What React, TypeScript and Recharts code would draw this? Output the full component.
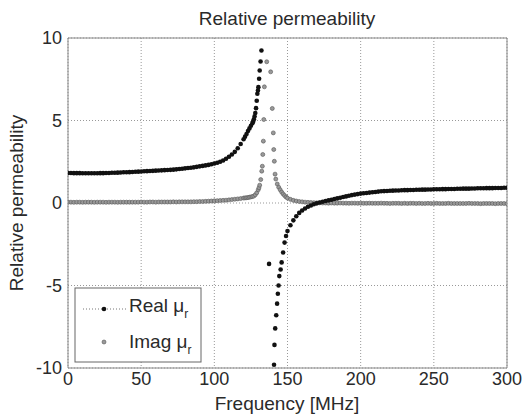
import { ScatterChart, Scatter, XAxis, YAxis, CartesianGrid, ReferenceLine } from 'recharts'

// frequency grid [MHz] below the resonance
const freqLow = [
  0, 2, 4, 6, 8, 10, 12, 14, 16, 18, 20, 22, 24, 26, 28, 30, 32, 34, 36, 38, 40,
  42, 44, 46, 48, 50, 52, 54, 56, 58, 60, 62, 64, 66, 68, 70, 72, 74, 76, 78, 80,
  82, 84, 86, 88, 90, 92, 94, 96, 98, 100, 102, 104, 106, 108, 110, 112, 114, 116, 118, 120,
]
const realLow = [
  1.82, 1.82, 1.81, 1.81, 1.81, 1.8, 1.8, 1.8, 1.8, 1.8, 1.8,
  1.81, 1.81, 1.82, 1.82, 1.83, 1.83, 1.84, 1.85, 1.86, 1.86,
  1.87, 1.88, 1.89, 1.9, 1.91, 1.92, 1.93, 1.94, 1.95, 1.96,
  1.97, 1.98, 1.99, 2.0, 2.01, 2.02, 2.04, 2.06, 2.08, 2.1,
  2.12, 2.14, 2.16, 2.19, 2.22, 2.25, 2.28, 2.31, 2.35, 2.39,
  2.44, 2.5, 2.58, 2.68, 2.8, 2.94, 3.1, 3.32, 3.58, 3.86,
]
const imagLow = [
  0.05, 0.05, 0.04, 0.05, 0.05, 0.04, 0.05, 0.05, 0.05, 0.04, 0.05,
  0.05, 0.05, 0.04, 0.05, 0.05, 0.05, 0.04, 0.05, 0.05, 0.05,
  0.05, 0.05, 0.05, 0.05, 0.06, 0.05, 0.05, 0.06, 0.06, 0.05,
  0.06, 0.06, 0.06, 0.06, 0.06, 0.07, 0.06, 0.07, 0.07, 0.07,
  0.07, 0.07, 0.08, 0.08, 0.09, 0.09, 0.1, 0.11, 0.12, 0.13,
  0.14, 0.15, 0.16, 0.17, 0.19, 0.21, 0.23, 0.25, 0.27, 0.3,
]

// around the resonance the samples are read one by one
const realMidFreq = [
  121, 122, 123, 124, 125, 126, 126.5, 127, 127.5, 128, 128.5, 129, 129.4, 129.8, 130.1, 130.6,
  131, 131.6, 132.2, 137.4, 140.8, 141.1, 141.6, 142.3, 142.9, 143.4, 143.9, 144.4, 145.3, 146,
  147, 148, 149,
]
const realMid = [
  4.02, 4.18, 4.36, 4.52, 4.68, 4.84, 4.94, 5.08, 5.25, 5.45, 5.75, 6.2, 6.62, 6.82, 7.02, 7.53,
  8.03, 8.58, 9.24, -3.69, -9.8, -8.6, -7.6, -6.8, -6.1, -5.5, -5.0, -4.43, -4.03, -3.6,
  -3.0, -2.4, -2.0,
]
const imagMidFreq = [
  121, 122, 123, 124, 125, 126, 127, 128, 129, 130, 130.5, 131, 131.7, 132.4, 132.8, 133.1, 133.5,
  133.8, 134.2, 135.8, 138.5, 139.6, 140.3, 140.6, 141, 141.5, 142, 143, 144, 145, 146, 147, 148, 149,
]
const imagMid = [
  0.31, 0.32, 0.33, 0.35, 0.37, 0.39, 0.42, 0.5, 0.62, 0.8, 0.92, 1.08, 1.42, 1.93, 2.23, 2.94, 3.75,
  5.06, 7.04, 8.56, 7.95, 5.73, 4.25, 3.24, 2.53, 1.75, 1.45, 1.15, 0.95, 0.8, 0.66, 0.55, 0.45, 0.36,
]

// above the resonance
const freqHigh = [
  150, 152, 154, 156, 158, 160, 162, 164, 166, 168, 170, 172, 174, 176, 178, 180, 182, 184, 186, 188,
  190, 192, 194, 196, 198, 200, 202, 204, 206, 208, 210, 212, 214, 216, 218, 220, 222, 224, 226, 228,
  230, 232, 234, 236, 238, 240, 242, 244, 246, 248, 250, 252, 254, 256, 258, 260, 262, 264, 266, 268,
  270, 272, 274, 276, 278, 280, 282, 284, 286, 288, 290, 292, 294, 296, 298, 300,
]
const realHigh = [
  -1.7, -1.35, -1.05, -0.8, -0.6, -0.45, -0.33, -0.23, -0.15, -0.08,
  -0.02, 0.03, 0.08, 0.12, 0.16, 0.2, 0.24, 0.28, 0.32, 0.36,
  0.4, 0.44, 0.48, 0.51, 0.54, 0.57, 0.59, 0.61, 0.63, 0.65,
  0.67, 0.69, 0.71, 0.72, 0.73, 0.74, 0.75, 0.76, 0.76, 0.77,
  0.78, 0.78, 0.79, 0.79, 0.8, 0.8, 0.81, 0.81, 0.82, 0.82,
  0.83, 0.83, 0.83, 0.84, 0.84, 0.85, 0.85, 0.85, 0.86, 0.86,
  0.87, 0.87, 0.87, 0.88, 0.88, 0.89, 0.89, 0.89, 0.9, 0.9,
  0.9, 0.91, 0.91, 0.91, 0.92, 0.92,
]
const imagHigh = [
  0.3, 0.22, 0.16, 0.12, 0.09, 0.07, 0.05, 0.04, 0.03, 0.02,
  0.01, 0.01, 0.0, 0.0, -0.01, 0.0, -0.01, -0.01, 0.0, -0.01,
  -0.01, -0.02, -0.01, -0.01, -0.02, -0.01, -0.02, -0.02, -0.01, -0.02,
  -0.02, -0.02, -0.01, -0.02, -0.02, -0.03, -0.02, -0.02, -0.02, -0.03,
  -0.02, -0.03, -0.02, -0.02, -0.03, -0.02, -0.03, -0.03, -0.02, -0.03,
  -0.03, -0.02, -0.03, -0.03, -0.03, -0.02, -0.03, -0.03, -0.03, -0.03,
  -0.03, -0.03, -0.02, -0.03, -0.03, -0.03, -0.04, -0.03, -0.03, -0.03,
  -0.03, -0.04, -0.03, -0.03, -0.03, -0.04,
]

const xTicks = [0, 50, 100, 150, 200, 250, 300]
const yTicks = [-10, -5, 0, 5, 10]

const toPoints = (f: number[], v: number[]) => f.map((x, i) => ({ f: x, v: v[i] }))

const realData = toPoints([...freqLow, ...realMidFreq, ...freqHigh], [...realLow, ...realMid, ...realHigh])
const imagData = toPoints([...freqLow, ...imagMidFreq, ...freqHigh], [...imagLow, ...imagMid, ...imagHigh])

const FONT = '"Liberation Sans", Arial, Helvetica, sans-serif'
const INK = '#2a2a2a'

const realDot = (p: any) => <circle cx={p.cx} cy={p.cy} r={2.3} fill="#111" />
const imagDot = (p: any) => <circle cx={p.cx} cy={p.cy} r={2} fill="#999" stroke="#555" strokeWidth={0.6} />

export default function App() {
  return (
    <div style={{ position: 'absolute', left: 0, top: 0, width: 524, height: 416, background: '#fff', fontFamily: FONT }}>
      <ScatterChart width={524} height={416} margin={{ top: 38, right: 17, left: 8, bottom: 18 }}>
        <CartesianGrid stroke="#999" strokeDasharray="1 2" />
        <XAxis
          type="number"
          dataKey="f"
          domain={[0, 300]}
          ticks={xTicks}
          allowDataOverflow
          height={30}
          axisLine={false}
          tickLine={false}
          tickSize={0}
          tickMargin={4}
          tick={{ fontSize: 18, fill: INK, fontFamily: FONT }}
        />
        <YAxis
          type="number"
          dataKey="v"
          domain={[-10, 10]}
          ticks={yTicks}
          allowDataOverflow
          width={60}
          axisLine={false}
          tickLine={false}
          tickSize={0}
          tickMargin={6}
          tick={{ fontSize: 18, fill: INK, fontFamily: FONT }}
        />
        <ReferenceLine x={0} stroke="#888" />
        <ReferenceLine x={300} stroke="#888" />
        <ReferenceLine y={-10} stroke="#888" />
        <ReferenceLine y={10} stroke="#888" />
        <Scatter name="Imag" data={imagData} shape={imagDot} isAnimationActive={false} />
        <Scatter name="Real" data={realData} shape={realDot} isAnimationActive={false} />
      </ScatterChart>

      <svg width={524} height={416} style={{ position: 'absolute', left: 0, top: 0, pointerEvents: 'none' }}>
        <g fontFamily={FONT} fill={INK}>
          <text x={287} y={25} fontSize={19} textAnchor="middle">Relative permeability</text>
          <text x={287} y={410} fontSize={19} textAnchor="middle">Frequency [MHz]</text>
          <text x={23} y={203} fontSize={19} textAnchor="middle" transform="rotate(-90 23 203)">
            Relative permeability
          </text>
        </g>

        {/* legend */}
        <rect x={75} y={288} width={126} height={74} fill="#fff" stroke="#666" strokeWidth={1} />
        <line x1={83} y1={309} x2={126} y2={309} stroke="#777" strokeDasharray="1 2" />
        <circle cx={104} cy={309} r={2.3} fill="#111" />
        <circle cx={104} cy={342} r={2} fill="#999" stroke="#555" strokeWidth={0.6} />
        <g fontFamily={FONT} fill={INK}>
          <text x={129} y={312} fontSize={19}>
            Real <tspan>μ</tspan>
            <tspan fontSize={12} dy={6}>r</tspan>
          </text>
          <text x={129} y={348} fontSize={19}>
            Imag <tspan>μ</tspan>
            <tspan fontSize={12} dy={6}>r</tspan>
          </text>
        </g>
      </svg>
    </div>
  )
}
